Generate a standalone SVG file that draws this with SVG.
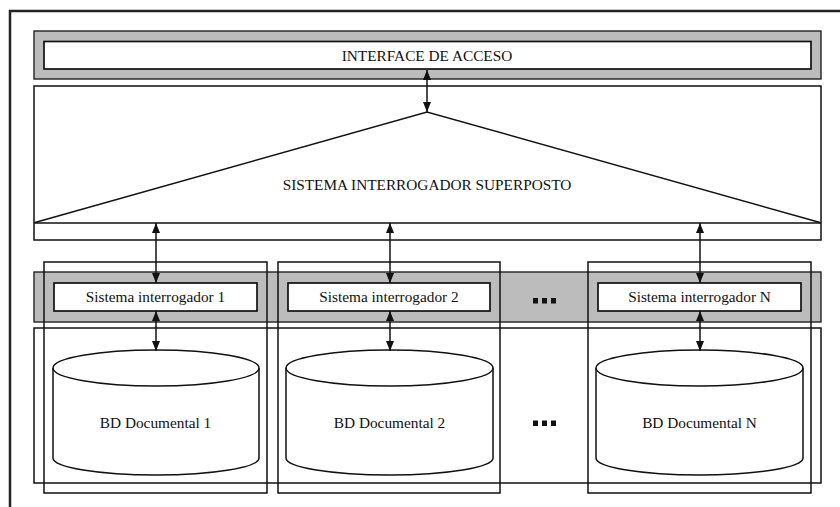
<svg xmlns="http://www.w3.org/2000/svg" width="840" height="507" viewBox="0 0 840 507">
<defs>
<marker id="ah" markerWidth="10" markerHeight="8" refX="10" refY="4" orient="auto-start-reverse" markerUnits="userSpaceOnUse" viewBox="0 0 10 8">
<path d="M0,0 L10,4 L0,8 Z" fill="#111"/>
</marker>
</defs>
<style>
.ln{fill:none;stroke:#111;stroke-width:1.5}
.wb{fill:#fff;stroke:#111;stroke-width:1.7}
.band{fill:#bcbcbc;stroke:#222;stroke-width:1.4}
.cyl{fill:#fff;stroke:#111;stroke-width:1.5}
.t{font-family:"Liberation Serif","Times New Roman","DejaVu Serif",serif;font-size:15.3px;fill:#111;text-anchor:middle}
.c{stroke:#111;stroke-width:1.5;fill:none;marker-start:url(#ah);marker-end:url(#ah)}
.dot{fill:#111}
</style>
<rect width="840" height="507" fill="#fff"/>
<rect x="10" y="11" width="840" height="510" fill="none" stroke="#222" stroke-width="2.5"/>

<g id="interface">
<rect class="band" x="34" y="31" width="787" height="48"/>
<rect class="wb" x="44" y="41.5" width="767" height="27.5"/>
<text class="t" x="427" y="61">INTERFACE DE ACCESO</text>
</g>

<g id="superposto">
<rect class="ln" x="34" y="86" width="787" height="154"/>
<line class="ln" x1="34" y1="223" x2="821" y2="223"/>
<polyline class="ln" points="35,222.5 427,112 820,222.5"/>
<text class="t" x="427" y="190">SISTEMA INTERROGADOR SUPERPOSTO</text>
</g>

<g id="band">
<rect class="band" x="34" y="272" width="787" height="50"/>
<rect class="ln" x="34" y="328" width="787" height="155"/>
<g id="dots-top">
<rect class="dot" x="533" y="298" width="5" height="5.5"/>
<rect class="dot" x="542" y="298" width="5" height="5.5"/>
<rect class="dot" x="551" y="298" width="5" height="5.5"/>
</g>
<g id="dots-bottom">
<rect class="dot" x="533" y="420.5" width="5" height="5.5"/>
<rect class="dot" x="542" y="420.5" width="5" height="5.5"/>
<rect class="dot" x="551" y="420.5" width="5" height="5.5"/>
</g>
</g>

<g id="col1">
<rect class="wb" x="54" y="283" width="203" height="28"/>
<text class="t" x="155.5" y="302">Sistema interrogador 1</text>
<path class="cyl" d="M53,368 L53,458 A103,17 0 0 0 259,458 L259,368 A103,18 0 0 0 53,368 Z"/>
<path class="ln" d="M53,368 A103,18 0 0 0 259,368"/>
<text class="t" x="155.5" y="428">BD Documental 1</text>
<rect class="ln" x="44" y="262" width="223" height="231"/>
</g>

<g id="col2">
<rect class="wb" x="288" y="283" width="202" height="28"/>
<text class="t" x="389" y="302">Sistema interrogador 2</text>
<path class="cyl" d="M286,368 L286,458 A103.5,17 0 0 0 493,458 L493,368 A103.5,18 0 0 0 286,368 Z"/>
<path class="ln" d="M286,368 A103.5,18 0 0 0 493,368"/>
<text class="t" x="389.5" y="428">BD Documental 2</text>
<rect class="ln" x="278" y="262" width="222" height="231"/>
</g>

<g id="colN">
<rect class="wb" x="598" y="283" width="203" height="28"/>
<text class="t" x="699.5" y="302">Sistema interrogador N</text>
<path class="cyl" d="M596,368 L596,458 A103.5,17 0 0 0 803,458 L803,368 A103.5,18 0 0 0 596,368 Z"/>
<path class="ln" d="M596,368 A103.5,18 0 0 0 803,368"/>
<text class="t" x="699.5" y="428">BD Documental N</text>
<rect class="ln" x="588" y="262" width="223" height="231"/>
</g>

<g id="connectors">
<line class="c" x1="427" y1="70" x2="427" y2="112"/>
<line class="c" x1="156" y1="223" x2="156" y2="283"/>
<line class="c" x1="390" y1="223" x2="390" y2="283"/>
<line class="c" x1="700" y1="223" x2="700" y2="283"/>
<line class="c" x1="156" y1="311" x2="156" y2="351"/>
<line class="c" x1="390" y1="311" x2="390" y2="351"/>
<line class="c" x1="700" y1="311" x2="700" y2="351"/>
</g>
</svg>
